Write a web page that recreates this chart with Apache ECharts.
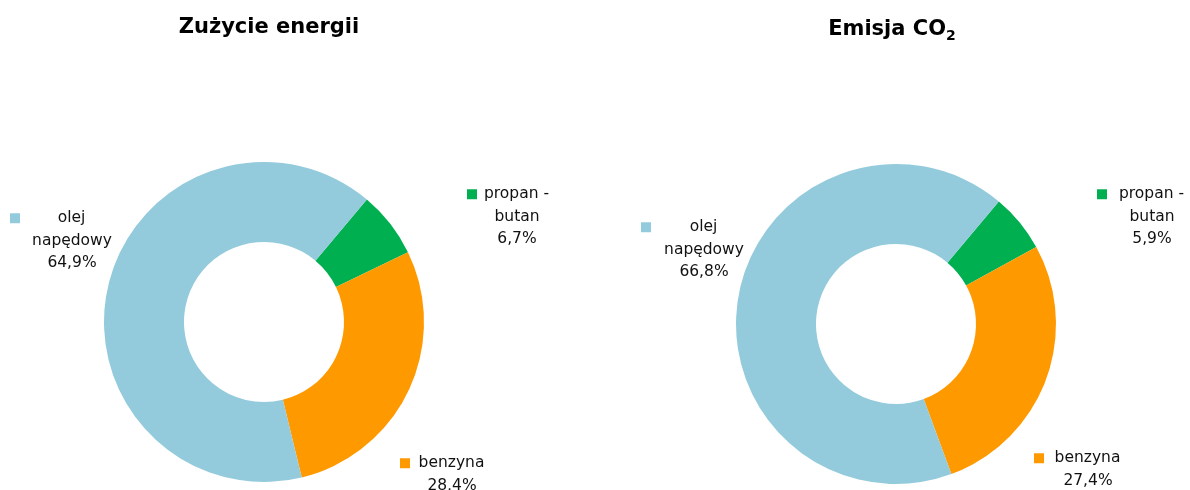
<!DOCTYPE html>
<html>
<head>
<meta charset="utf-8">
<script src="https://cdn.jsdelivr.net/npm/echarts@6/dist/echarts.min.js"></script>
<style>
  html, body { margin: 0; padding: 0; background: #fff; }
  #main { width: 1190px; height: 490px; }
</style>
</head>
<body>
<div id="main"></div>
<script>
'use strict';

// kolejność zgodnie z ruchem wskazówek zegara
const fuels = ['propan -\nbutan', 'benzyna', 'olej\nnapędowy'];
const energyShare = [6.7, 28.4, 64.9];
const co2Share = [5.9, 27.4, 66.8];
const colors = ['#00B050', '#FF9900', '#94CBDC'];

const labelFont = 'DejaVu Sans';

// miejsca etykiet (lewy górny róg bloku + szerokość bloku)
const energyLabelPos = [
    { x: 467, y: 183, w: 100 },
    { x: 400, y: 452, w: 104 },
    { x: 10, y: 207, w: 124 }
];
const co2LabelPos = [
    { x: 1097, y: 183, w: 110 },
    { x: 1034, y: 447, w: 108 },
    { x: 641, y: 216, w: 126 }
];

function fmt(v) {
    return v.toFixed(1).replace('.', ',') + '%';
}

function buildData(values, pos) {
    return fuels.map(function (name, i) {
        return {
            name: name,
            value: values[i],
            itemStyle: { color: colors[i] },
            label: { width: pos[i].w, overflow: 'none' }
        };
    });
}

function buildRich() {
    const rich = {
        e: { width: 11, height: 10, align: 'right' }
    };
    colors.forEach(function (c, i) {
        rich['m' + i] = { width: 10, height: 10, backgroundColor: c, align: 'left' };
    });
    return rich;
}

function makeSeries(values, center, pos) {
    return {
        type: 'pie',
        center: center,
        radius: [80, 160],
        startAngle: 50,
        clockwise: true,
        animation: false,
        silent: true,
        data: buildData(values, pos),
        labelLine: { show: false },
        label: {
            show: true,
            position: 'outside',
            fontFamily: labelFont,
            fontSize: 15.5,
            lineHeight: 22.5,
            color: '#111',
            align: 'center',
            formatter: function (p) {
                const lines = p.name.split('\n');
                const first = '{m' + p.dataIndex + '|}' + lines[0] + '{e|}';
                const rest = lines.slice(1);
                rest.push(fmt(p.value));
                return [first].concat(rest).join('\n');
            },
            rich: buildRich()
        },
        labelLayout: function (params) {
            const p = pos[params.dataIndex];
            return { x: p.x + p.w / 2, y: p.y, align: 'center', verticalAlign: 'top' };
        }
    };
}

const chart = echarts.init(document.getElementById('main'));

chart.setOption({
    backgroundColor: '#fff',
    title: [
        {
            text: 'Zużycie energii',
            left: 264,
            top: 12,
            textAlign: 'center',
            textStyle: { fontFamily: 'DejaVu Sans', fontWeight: 'bold', fontSize: 21, color: '#000' }
        },
        {
            text: 'Emisja CO{sub|2}',
            left: 887,
            top: 12,
            textAlign: 'center',
            textStyle: {
                fontFamily: 'DejaVu Sans', fontWeight: 'bold', fontSize: 21, color: '#000',
                rich: {
                    sub: { fontFamily: 'DejaVu Sans', fontWeight: 'bold', fontSize: 14, color: '#000', padding: [12, 0, 0, 0] }
                }
            }
        }
    ],
    series: [
        makeSeries(energyShare, [264, 322], energyLabelPos),
        makeSeries(co2Share, [896, 324], co2LabelPos)
    ]
});

window.onresize = function () {
    chart.resize();
};
</script>
</body>
</html>
